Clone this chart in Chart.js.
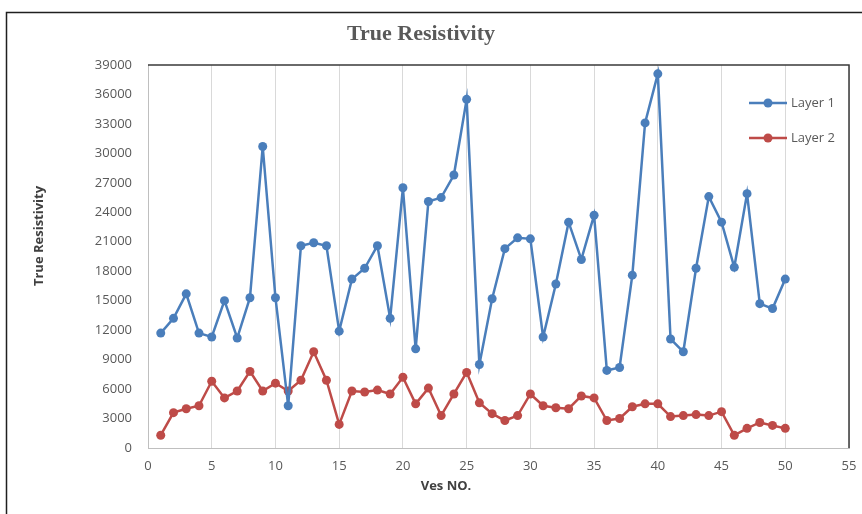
<!DOCTYPE html>
<html>
<head>
    <title>True Resistivity</title>
    <script src="https://cdn.jsdelivr.net/npm/chart.js"></script>
    <style>
        body { margin: 0; background: #ffffff; }
    </style>
</head>
<body>
    <canvas id="resistivityChart" width="862" height="514"></canvas>

    <script>
        // values
        const vesNo = [1, 2, 3, 4, 5, 6, 7, 8, 9, 10,
            11, 12, 13, 14, 15, 16, 17, 18, 19, 20,
            21, 22, 23, 24, 25, 26, 27, 28, 29, 30,
            31, 32, 33, 34, 35, 36, 37, 38, 39, 40,
            41, 42, 43, 44, 45, 46, 47, 48, 49, 50];

        const layer1 = [11700, 13200, 15700, 11700, 11300, 15000, 11200, 15300, 30700, 15300,
            4300, 20600, 20900, 20600, 11900, 17200, 18300, 20600, 13200, 26500,
            10100, 25100, 25500, 27800, 35500, 8500, 15200, 20300, 21400, 21300,
            11300, 16700, 23000, 19200, 23700, 7900, 8200, 17600, 33100, 38100,
            11100, 9800, 18300, 25600, 23000, 18400, 25900, 14700, 14200, 17200];

        const layer2 = [1300, 3600, 4000, 4300, 6800, 5100, 5800, 7800, 5800, 6600,
            5800, 6900, 9800, 6900, 2400, 5800, 5700, 5900, 5500, 7200,
            4500, 6100, 3300, 5500, 7700, 4600, 3500, 2800, 3300, 5500,
            4300, 4100, 4000, 5300, 5100, 2800, 3000, 4200, 4500, 4500,
            3200, 3300, 3400, 3300, 3700, 1300, 2000, 2600, 2300, 2000];

        const xTicks = [0, 5, 10, 15, 20, 25, 30, 35, 40, 45, 50, 55];
        const yTicks = [0, 3000, 6000, 9000, 12000, 15000, 18000, 21000, 24000, 27000, 30000, 33000, 36000, 39000];

        const seriesNames = ['Layer 1', 'Layer 2'];
        const seriesColors = ['#4a7ebb', '#be4b48'];

        function toPoints(values) {
            return vesNo.map((v, i) => ({ x: v, y: values[i] }));
        }

        // frame, titles and the legend that sits inside the plot
        const decorations = {
            id: 'decorations',
            afterDraw(chart) {
                const ctx = chart.ctx;
                const area = chart.chartArea;
                ctx.save();

                // outer chart border (left + top visible)
                ctx.strokeStyle = '#1f1f1f';
                ctx.lineWidth = 1.5;
                ctx.beginPath();
                ctx.moveTo(6.5, 514);
                ctx.lineTo(6.5, 12.5);
                ctx.lineTo(862, 12.5);
                ctx.stroke();

                // plot area top and right edges
                ctx.strokeStyle = '#3a3a3a';
                ctx.lineWidth = 1.5;
                ctx.beginPath();
                ctx.moveTo(area.left, area.top);
                ctx.lineTo(area.right, area.top);
                ctx.lineTo(area.right, area.bottom);
                ctx.stroke();

                // chart title
                ctx.fillStyle = '#595959';
                ctx.textAlign = 'center';
                ctx.textBaseline = 'middle';
                ctx.font = 'bold 22px "Liberation Serif"';
                ctx.fillText('True Resistivity', 421, 34);

                // axis titles
                ctx.fillStyle = '#404040';
                ctx.font = 'bold 13px "Open Sans"';
                ctx.fillText('Ves NO.', 446, 486);
                ctx.save();
                ctx.translate(39, 236);
                ctx.rotate(-Math.PI / 2);
                ctx.fillText('True Resistivity', 0, 0);
                ctx.restore();

                // legend
                ctx.textAlign = 'left';
                ctx.font = '13px "Open Sans"';
                chart.data.datasets.forEach((ds, i) => {
                    const y = 103 + i * 35;
                    ctx.strokeStyle = ds.borderColor;
                    ctx.lineWidth = 2.5;
                    ctx.beginPath();
                    ctx.moveTo(749, y);
                    ctx.lineTo(787, y);
                    ctx.stroke();
                    ctx.fillStyle = ds.backgroundColor;
                    ctx.beginPath();
                    ctx.arc(768, y, 4.5, 0, Math.PI * 2);
                    ctx.fill();
                    ctx.fillStyle = '#595959';
                    ctx.fillText(ds.label, 791, y);
                });

                ctx.restore();
            }
        };

        function renderChart() {
            new Chart(document.getElementById('resistivityChart'), {
                type: 'scatter',
                data: {
                    datasets: [layer1, layer2].map((values, i) => ({
                        label: seriesNames[i],
                        data: toPoints(values),
                        showLine: true,
                        borderColor: seriesColors[i],
                        backgroundColor: seriesColors[i],
                        borderWidth: 2.5,
                        pointRadius: 4.5,
                        pointBorderWidth: 0,
                        pointHoverRadius: 4.5
                    }))
                },
                options: {
                    responsive: false,
                    animation: false,
                    layout: { padding: { left: 0, right: 13, top: 65, bottom: 0 } },
                    plugins: {
                        legend: { display: false },
                        title: { display: false },
                        tooltip: { enabled: false }
                    },
                    scales: {
                        x: {
                            type: 'linear',
                            min: 0,
                            max: 55,
                            afterFit: scale => {
                                scale.height = 66;
                                scale.paddingLeft = 0;
                                scale.paddingRight = 0;
                            },
                            afterBuildTicks: scale => { scale.ticks = xTicks.map(v => ({ value: v })); },
                            ticks: {
                                padding: 10,
                                color: '#595959',
                                font: { family: 'Open Sans', size: 13 },
                                callback: value => String(value)
                            },
                            grid: { color: '#d9d9d9', lineWidth: 1, drawTicks: false },
                            border: { display: true, color: '#bfbfbf', width: 1 }
                        },
                        y: {
                            min: 0,
                            max: 39000,
                            afterFit: scale => { scale.width = 148; },
                            afterBuildTicks: scale => { scale.ticks = yTicks.map(v => ({ value: v })); },
                            ticks: {
                                padding: 16,
                                color: '#595959',
                                font: { family: 'Open Sans', size: 13 },
                                callback: value => String(value)
                            },
                            grid: { color: 'rgba(0,0,0,0)', drawTicks: false },
                            border: { display: true, color: '#bfbfbf', width: 1 }
                        }
                    }
                },
                plugins: [decorations]
            });
        }

        document.addEventListener("DOMContentLoaded", function() {
            renderChart();
        });
    </script>
</body>
</html>
